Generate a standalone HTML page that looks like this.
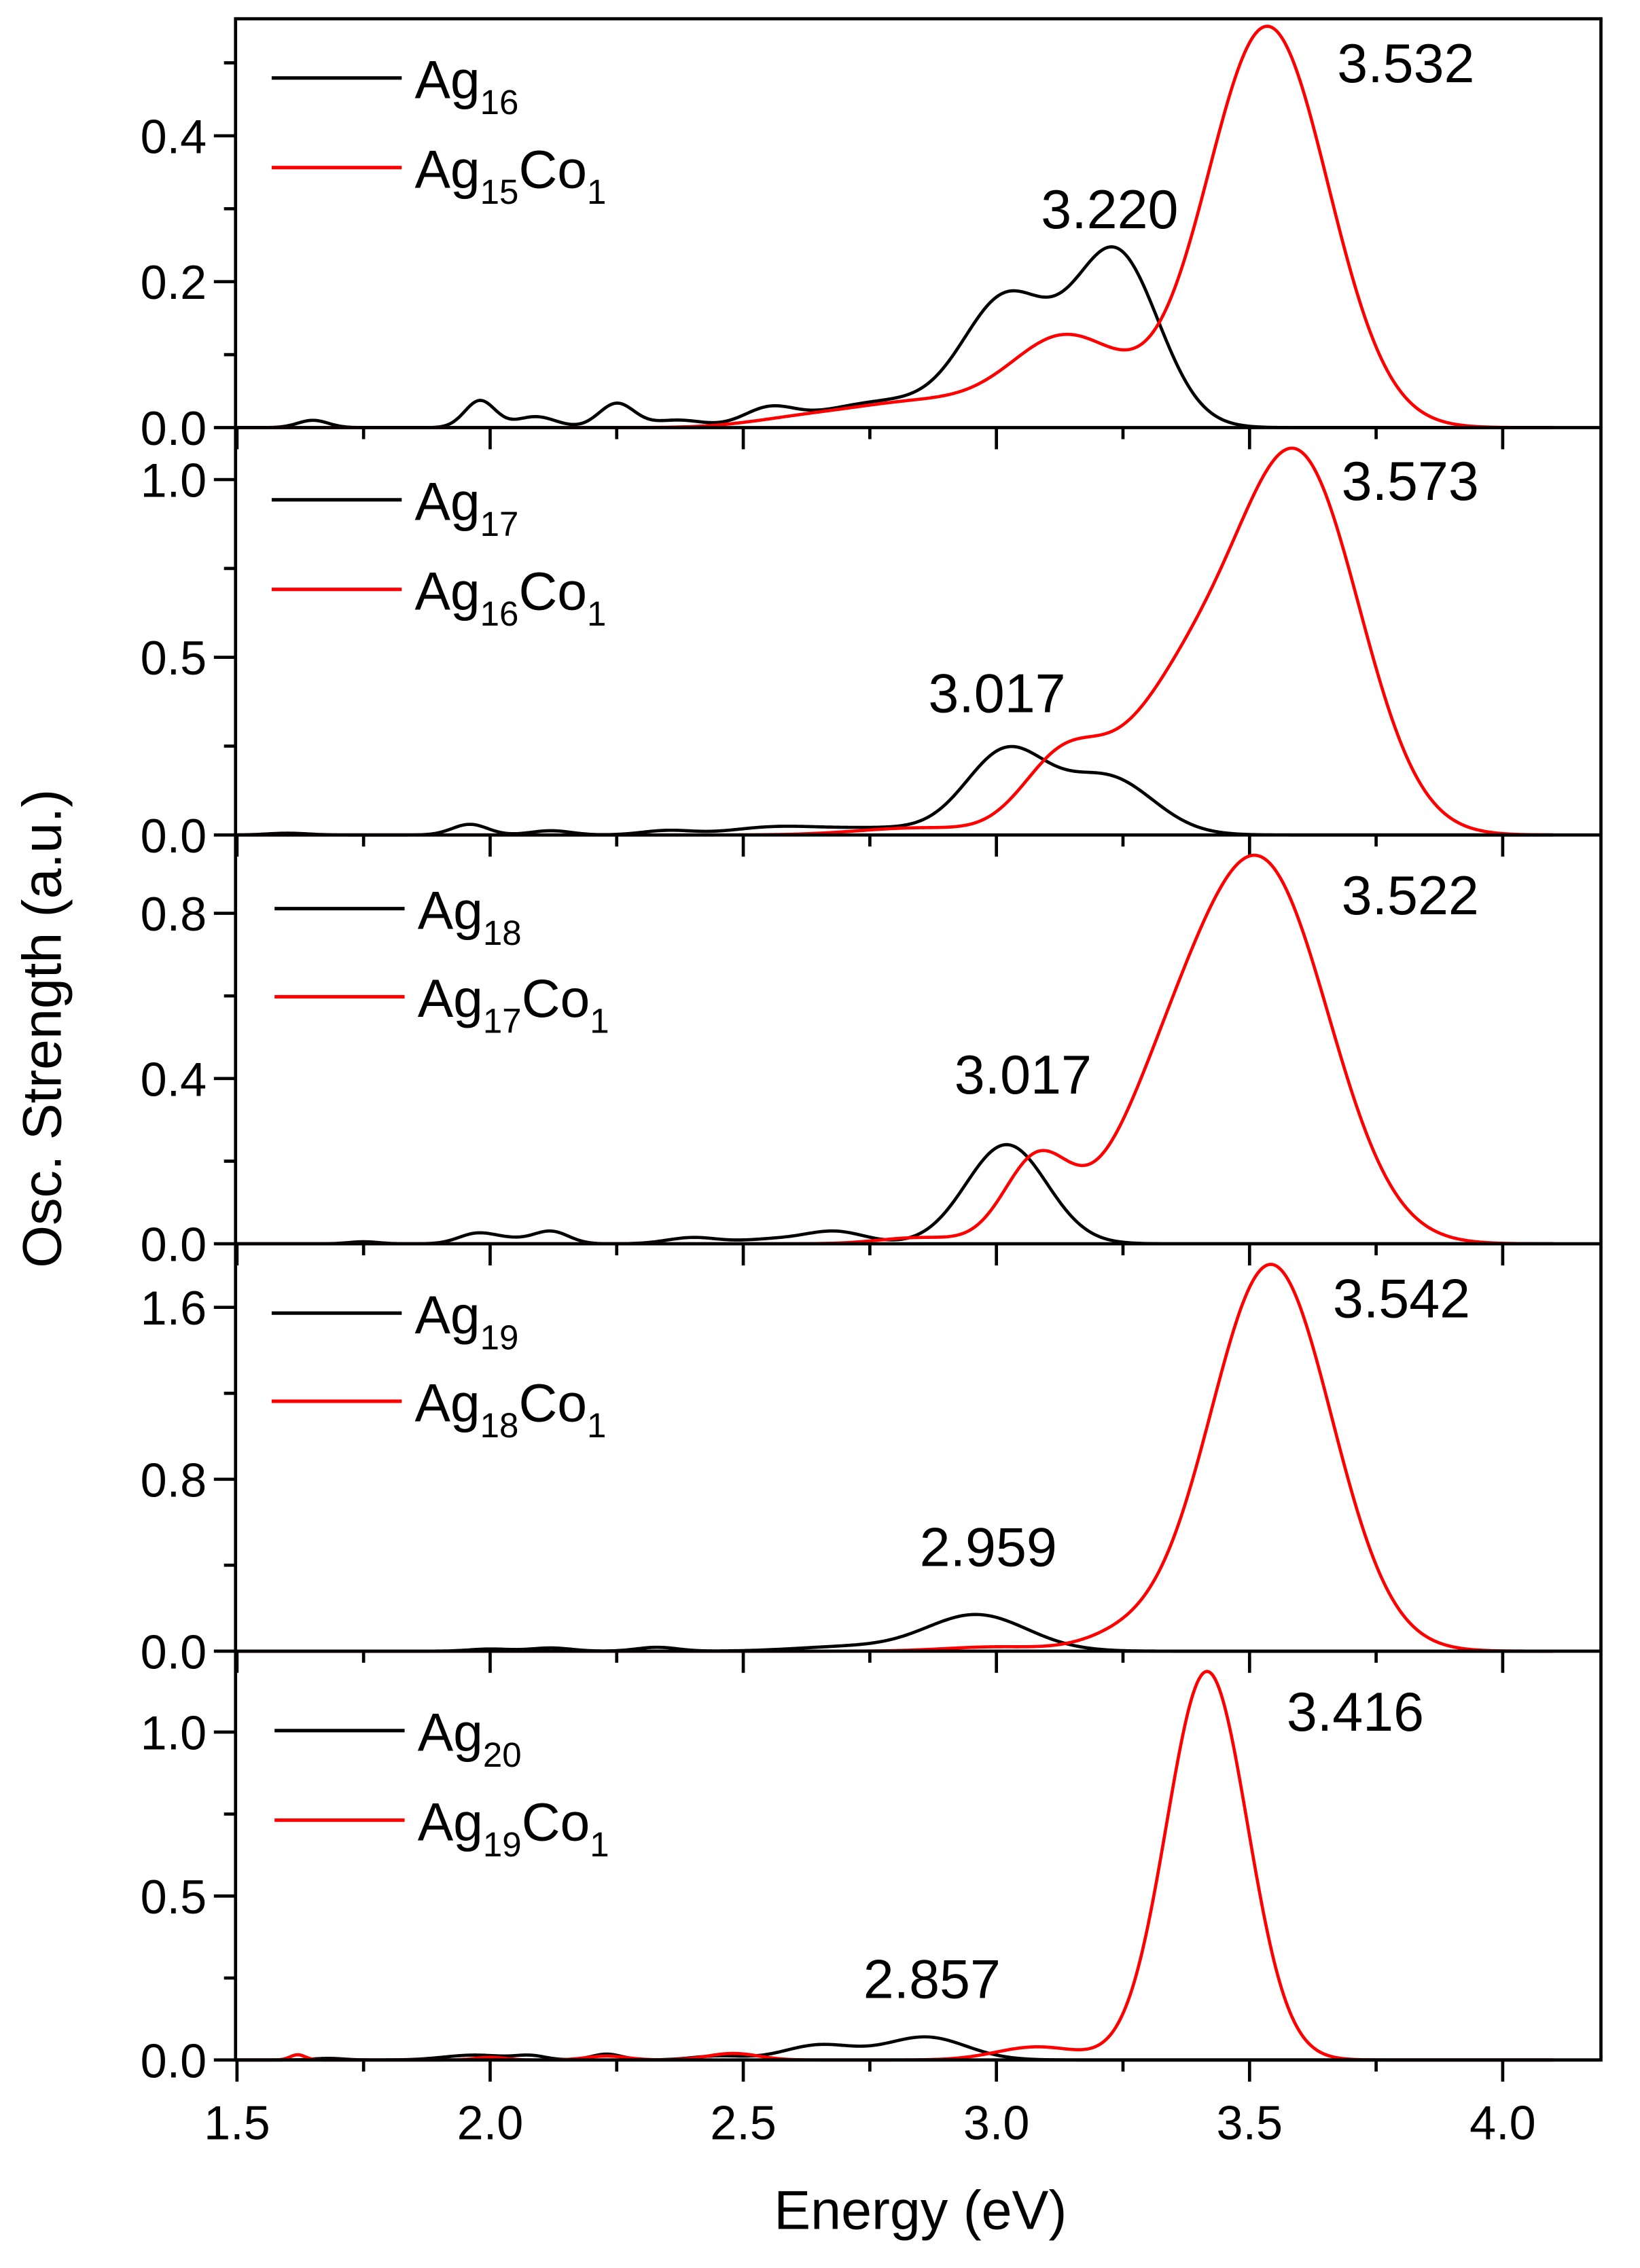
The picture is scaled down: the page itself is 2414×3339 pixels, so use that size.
<!DOCTYPE html>
<html><head><meta charset="utf-8"><style>html,body{margin:0;padding:0;background:#fff}svg{display:block}</style></head>
<body>
<svg id="s" xmlns="http://www.w3.org/2000/svg" width="2414" height="3339" viewBox="0 0 1135 1570" font-family="Liberation Sans, Arial, sans-serif"></svg>
<script>
const S=document.getElementById('s');let h='';
const L=163,R=1108,T=13;
const X=e=>164+(e-1.5)*350.4;
const G=(m,a,s)=>x=>a*Math.exp(-0.5*((x-m)/s)**2);
const panels=[
 {z:296,top:13,ppu:505,maj:[0,0.2,0.4],lab:['0.0','0.2','0.4'],minStep:0.1,maxv:0.56,
  blk:[G(3.02,0.17,0.085),G(3.235,0.24,0.085),G(2.78,0.035,0.13),G(2.55,0.022,0.05),G(2.25,0.033,0.035),G(1.98,0.037,0.03),G(2.09,0.015,0.04),G(1.65,0.01,0.03),G(2.37,0.01,0.05)],
  red:[G(3.535,0.55,0.12),G(3.14,0.12,0.11),G(2.85,0.035,0.15),G(2.6,0.008,0.1)],
  leg:[54,116],lx:188,ann:[['3.532',973,57],['3.220',768,158]],sub:['16','15']},
 {z:578,top:296,ppu:246,maj:[0,0.5,1.0],lab:['0.0','0.5','1.0'],minStep:0.25,maxv:1.14,
  blk:[G(3.02,0.23,0.08),G(3.22,0.16,0.09),G(2.75,0.02,0.15),G(2.55,0.015,0.08),G(1.96,0.03,0.035),G(2.12,0.012,0.04),G(2.35,0.012,0.05),G(1.6,0.005,0.04)],
  red:[G(3.6,1.02,0.12),G(3.37,0.38,0.12),G(3.13,0.2,0.08),G(2.85,0.02,0.12)],
  leg:[346,408],lx:188,ann:[['3.573',976,346],['3.017',690,493]],sub:['17','16']},
 {z:861,top:578,ppu:286,maj:[0,0.4,0.8],lab:['0.0','0.4','0.8'],minStep:0.2,maxv:0.99,
  blk:[G(3.02,0.24,0.08),G(2.68,0.03,0.06),G(2.4,0.015,0.05),G(2.12,0.03,0.035),G(1.97,0.022,0.035),G(2.03,0.012,0.04),G(1.75,0.005,0.03),G(2.55,0.01,0.06)],
  red:[G(3.53,0.88,0.13),G(3.33,0.27,0.11),G(3.08,0.2,0.065),G(2.85,0.015,0.08)],
  leg:[629,690],lx:190,ann:[['3.522',976,633],['3.017',708,757]],sub:['18','17']},
 {z:1143,top:861,ppu:148.75,maj:[0,0.8,1.6],lab:['0.0','0.8','1.6'],minStep:0.4,maxv:1.9,
  blk:[G(2.96,0.17,0.1),G(2.7,0.02,0.1),G(2.33,0.018,0.04),G(2.12,0.015,0.04),G(2.0,0.01,0.04)],
  red:[G(3.542,1.8,0.12),G(3.25,0.06,0.08),G(3.0,0.02,0.1)],
  leg:[909,970],lx:188,ann:[['3.542',970,912],['2.959',684,1084]],sub:['19','18']},
 {z:1426,top:1143,ppu:227,maj:[0,0.5,1.0],lab:['0.0','0.5','1.0'],minStep:0.25,maxv:1.24,
  blk:[G(2.86,0.07,0.08),G(2.65,0.045,0.07),G(2.23,0.018,0.03),G(2.08,0.012,0.03),G(1.97,0.015,0.06),G(2.45,0.012,0.05),G(1.68,0.005,0.03)],
  red:[G(3.416,1.185,0.08),G(3.08,0.04,0.08),G(1.62,0.016,0.015),G(2.48,0.02,0.05),G(2.23,0.012,0.04),G(2.0,0.008,0.03)],
  leg:[1198,1260],lx:190,ann:[['3.416',938,1198],['2.857',645,1383]],sub:['20','19']}
];
function path(fs,p,e1){let d='';for(let e=1.5;e<=e1;e+=0.004){let v=0;fs.forEach(f=>v+=f(e));d+=(d?'L':'M')+X(e).toFixed(2)+','+(p.z-v*p.ppu).toFixed(2);}return d;}
panels.forEach((p,i)=>{
 h+=`<path d="${path(p.blk,p,4.1)}" fill="none" stroke="#000" stroke-width="2.2"/>`;
 h+=`<path d="${path(p.red,p,4.1)}" fill="none" stroke="#f00" stroke-width="2.2"/>`;
 for(let v=0;v<=p.maxv+1e-6;v+=p.minStep){const y=p.z-v*p.ppu;const isMaj=p.maj.some(m=>Math.abs(m-v)<1e-6);h+=`<line x1="${L-(isMaj?15:8)}" y1="${y}" x2="${L}" y2="${y}" stroke="#000" stroke-width="2.2"/>`;}
 p.maj.forEach((m,j)=>{h+=`<text x="${L-20}" y="${p.z-m*p.ppu+12}" font-size="33" text-anchor="end">${p.lab[j]}</text>`;});
 for(let e=1.5;e<=4.2;e+=0.25){const isMaj=Math.abs(e*2-Math.round(e*2))<1e-6;h+=`<line x1="${X(e)}" y1="${p.z}" x2="${X(e)}" y2="${p.z+(isMaj?15:8)}" stroke="#000" stroke-width="2.2"/>`;}
 h+=`<line x1="${L}" y1="${p.z}" x2="${R}" y2="${p.z}" stroke="#000" stroke-width="2.2"/>`;
 const [y1,y2]=p.leg,lx=p.lx;
 h+=`<line x1="${lx}" y1="${y1}" x2="${lx+90}" y2="${y1}" stroke="#000" stroke-width="2.4"/>`;
 h+=`<line x1="${lx}" y1="${y2}" x2="${lx+90}" y2="${y2}" stroke="#f00" stroke-width="2.4"/>`;
 h+=`<text x="${lx+99}" y="${y1+14}" font-size="37">Ag<tspan font-size="24" dy="11">${p.sub[0]}</tspan></text>`;
 h+=`<text x="${lx+99}" y="${y2+14}" font-size="37">Ag<tspan font-size="24" dy="11">${p.sub[1]}</tspan><tspan dy="-11">Co</tspan><tspan font-size="24" dy="11">1</tspan></text>`;
 p.ann.forEach(a=>{h+=`<text x="${a[1]}" y="${a[2]}" font-size="38" text-anchor="middle">${a[0]}</text>`;});
});
h+=`<rect x="${L}" y="${T}" width="${R-L}" height="${1426-T}" fill="none" stroke="#000" stroke-width="2.2"/>`;
['1.5','2.0','2.5','3.0','3.5','4.0'].forEach((t,i)=>{h+=`<text x="${X(1.5+i*0.5)}" y="1481" font-size="33" text-anchor="middle">${t}</text>`;});
h+=`<text x="637" y="1543" font-size="38" text-anchor="middle">Energy (eV)</text>`;
h+=`<text transform="translate(42,712) rotate(-90)" font-size="38" text-anchor="middle">Osc. Strength (a.u.)</text>`;
S.innerHTML=h;
</script>
</body></html>
